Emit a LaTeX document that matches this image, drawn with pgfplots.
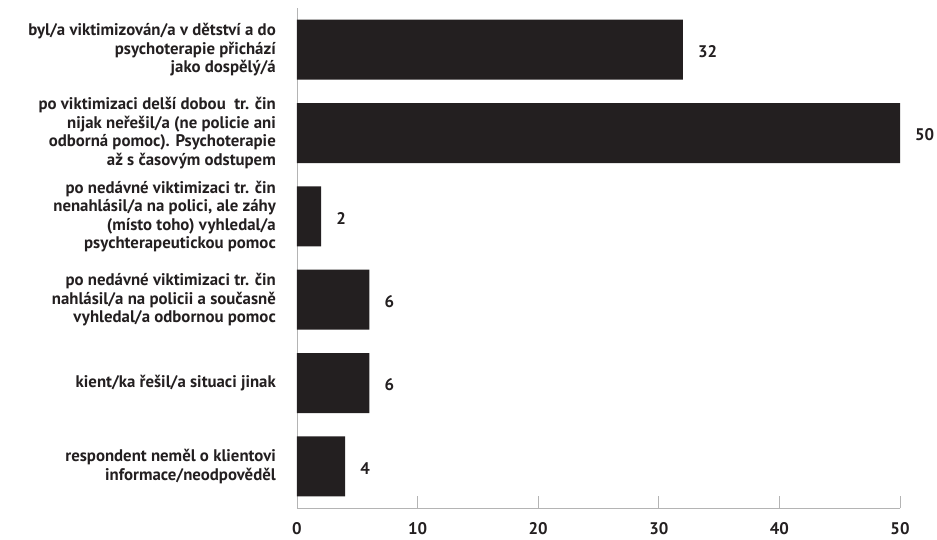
\documentclass[border=0pt]{standalone}
\usepackage{pgfplots}
\pgfplotsset{compat=1.18}
\usepackage{fontspec}
\setmainfont{PT Sans}
\definecolor{barc}{HTML}{231F20}
\definecolor{axc}{HTML}{B4B4B4}
\begin{document}
\begin{tikzpicture}
\begin{axis}[
  scale only axis, width=603pt, height=500pt,
  xbar, bar width=60pt,
  xmin=0, xmax=50, ymin=-0.5, ymax=5.5,
  axis x line*=bottom, axis y line*=left,
  axis line style={axc, line width=0.9pt},
  xtick={0,10,...,50}, ytick={0,...,5},
  yticklabels={
    {respondent neměl o klientovi\\informace/neodpověděl},
    {kient/ka řešil/a situaci jinak},
    {po nedávné viktimizaci tr. čin\\nahlásil/a na policii a současně\\vyhledal/a odbornou pomoc},
    {po nedávné viktimizaci tr. čin\\nenahlásil/a na polici, ale záhy\\(místo toho) vyhledal/a\\psychterapeutickou pomoc},
    {po viktimizaci delší dobou\ \ tr. čin\\nijak neřešil/a (ne policie ani\\odborná pomoc). Psychoterapie\\až s časovým odstupem},
    {byl/a viktimizován/a v dětství a do\\psychoterapie přichází\\jako dospělý/á}
  },
  xtick align=inside, major tick length=12pt,
  xtick style={axc, line width=0.9pt},
  ytick style={draw=none},
  /pgf/number format/assume math mode=true,
  ticklabel style={font=\fontsize{16.8}{18.5}\selectfont\bfseries, text=barc},
  xticklabel style={inner sep=0pt, yshift=-14pt, anchor=north},
  yticklabel style={align=right, inner sep=0pt, xshift=-9pt},
  nodes near coords,
  nodes near coords style={font=\fontsize{16.8}{18}\selectfont\bfseries, text=barc, anchor=west, inner sep=0pt, xshift=15pt, yshift=-2pt},
]
\addplot[fill=barc, draw=none] coordinates {(4,0) (6,1) (6,2) (2,3) (50,4) (32,5)};
\end{axis}
\pgfresetboundingbox
\path (-297pt,-31pt) rectangle (640pt,508pt);
\end{tikzpicture}
\end{document}
